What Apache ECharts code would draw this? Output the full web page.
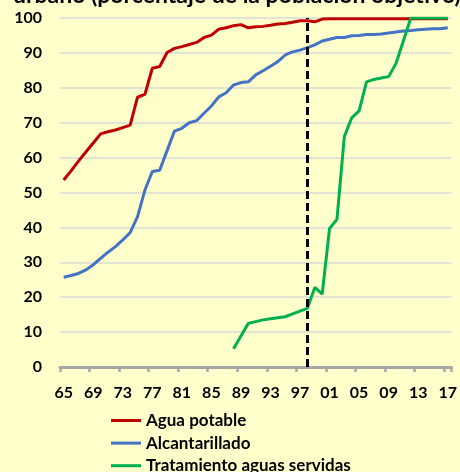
<!DOCTYPE html>
<html>
<head>
<meta charset="utf-8">
<script src="https://cdn.jsdelivr.net/npm/echarts@6/dist/echarts.min.js"></script>
<style>
html,body{margin:0;padding:0;background:#FFFFCC;}
#c{width:460px;height:472px;}
</style>
</head>
<body>
<div id="c"></div>
<script>
var years = ['65','66','67','68','69','70','71','72','73','74','75','76','77','78','79','80','81','82','83','84','85','86','87','88','89','90','91','92','93','94','95','96','97','98','99','00','01','02','03','04','05','06','07','08','09','10','11','12','13','14','15','16','17'];

var aguaPotable = [53.6,56.2,59.0,61.6,64.2,66.8,67.4,67.9,68.6,69.3,77.3,78.1,85.6,86.1,90.1,91.3,91.8,92.4,93.0,94.4,95.1,96.8,97.2,97.8,98.1,97.2,97.5,97.6,97.9,98.3,98.4,98.8,99.2,99.2,98.9,99.7,99.8,99.8,99.8,99.8,99.8,99.8,99.8,99.8,99.8,99.8,99.8,99.8,99.8,99.8,99.8,99.8,99.8];

var alcantarillado = [25.7,26.2,26.8,27.8,29.3,31.1,32.9,34.5,36.4,38.5,43.1,50.7,56.0,56.4,62.0,67.6,68.4,70.0,70.6,72.7,74.8,77.4,78.6,80.8,81.5,81.7,83.7,84.9,86.2,87.5,89.4,90.3,90.8,91.5,92.3,93.4,93.9,94.4,94.4,94.9,95.0,95.3,95.3,95.4,95.7,96.0,96.3,96.4,96.6,96.8,96.9,96.9,97.2];

var tratamiento = [null,null,null,null,null,null,null,null,null,null,null,null,null,null,null,null,null,null,null,null,null,null,null,5.2,8.9,12.5,13.0,13.5,13.8,14.1,14.4,15.2,16.0,16.8,22.8,20.9,39.7,42.3,66.0,71.4,73.4,81.7,82.4,82.8,83.2,87.0,93.5,100,100,100,100,100,100];

var seriesNames = ['Agua potable','Alcantarillado','Tratamiento aguas servidas'];
var markYear = '98';
var titleText = 'urbano (porcentaje de la población objetivo)';

var FONT = 'Lato';
var chart = echarts.init(document.getElementById('c'), null, {renderer:'canvas'});
var lineS = function(name, data, color, extra){
  var s = {
    name: name, type:'line', data: data, showSymbol:false, symbol:'none',
    connectNulls:false, animation:false,
    lineStyle:{color:color, width:3},
    itemStyle:{color:color},
    emphasis:{disabled:true}
  };
  if (extra) for (var k in extra) s[k]=extra[k];
  return s;
};
chart.setOption({
  backgroundColor:'#FFFFCC',
  animation:false,
  graphic:[{
    type:'text', left:13, top:-16,
    style:{text:titleText, font:'bold 23px ' + FONT, fill:'#000'}
  }],
  grid:{left:60, right:7.5, top:18, bottom:105, containLabel:false},
  xAxis:{
    type:'category', data:years, boundaryGap:true,
    axisLine:{lineStyle:{color:'#A6A6A6', width:3}},
    axisTick:{show:true, interval:3, length:5, lineStyle:{color:'#A6A6A6', width:2.5}},
    axisLabel:{interval:3, margin:18, color:'#000', fontFamily:FONT, fontWeight:'bold', fontSize:16},
    splitLine:{show:false}
  },
  yAxis:{
    type:'value', min:0, max:100, interval:10,
    axisLine:{show:false}, axisTick:{show:false},
    axisLabel:{margin:18, color:'#000', fontFamily:FONT, fontWeight:'bold', fontSize:16},
    splitLine:{lineStyle:{color:'#D9D9D9', width:1.5}}
  },
  legend:{
    orient:'vertical', left:111, top:412, height:120, padding:0,
    itemWidth:30, itemHeight:3, itemGap:5.6,
    icon:'rect',
    data:seriesNames,
    textStyle:{color:'#000', fontFamily:FONT, fontWeight:'bold', fontSize:17, lineHeight:16}
  },
  series:[
    lineS(seriesNames[0], aguaPotable, '#C00000', {
      markLine:{
        silent:true, symbol:['none','none'], animation:false,
        label:{show:false},
        lineStyle:{color:'#000', width:3, type:[8,4]},
        data:[{xAxis:markYear}]
      }
    }),
    lineS(seriesNames[1], alcantarillado, '#4472C4'),
    lineS(seriesNames[2], tratamiento, '#00B050')
  ]
});
</script>
</body>
</html>
